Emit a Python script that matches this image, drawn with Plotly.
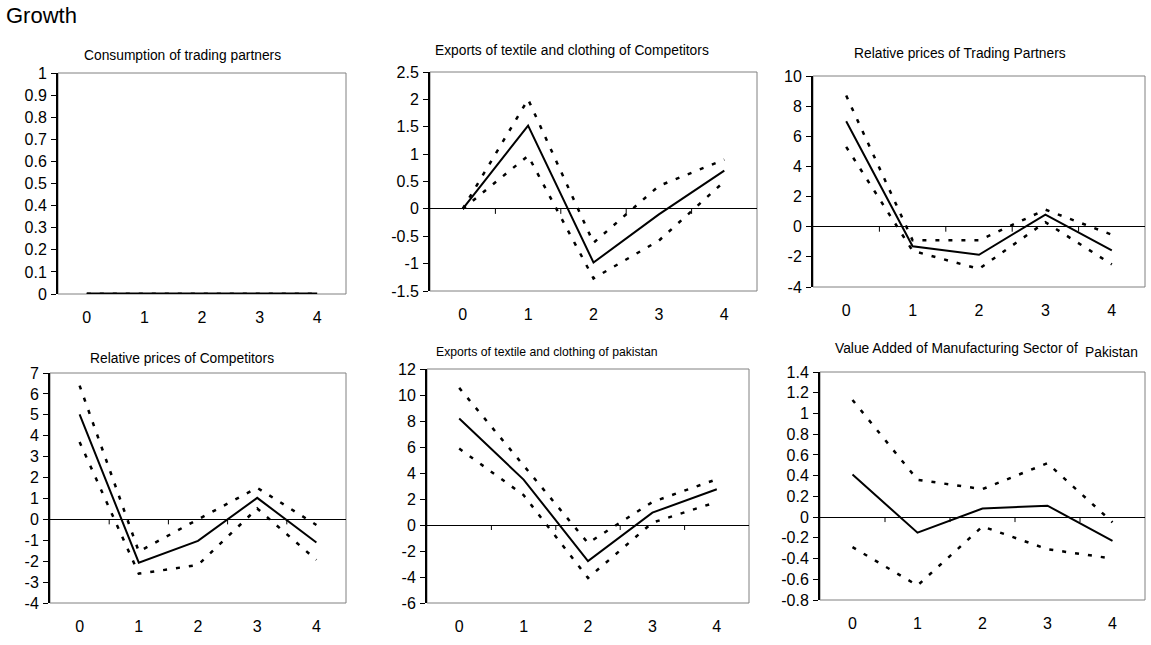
import numpy as np
import plotly.graph_objects as go

periods = ["0", "1", "2", "3", "4"]

titles = [
    "Consumption of trading partners",
    "Exports of textile and clothing of Competitors",
    "Relative prices of Trading Partners",
    "Relative prices of Competitors",
    "Exports of textile and clothing of pakistan",
    "Value Added of Manufacturing Sector of",
]
title_tail_p6 = "Pakistan"

p1_mid = [0, 0, 0, 0, 0]
p1_up = [0, 0, 0, 0, 0]
p1_lo = [0, 0, 0, 0, 0]

p2_mid = [0, 1.52, -0.98, -0.1, 0.7]
p2_up = [0, 2.0, -0.62, 0.42, 0.9]
p2_lo = [0, 0.97, -1.27, -0.58, 0.5]

p3_mid = [7.0, -1.3, -1.86, 0.8, -1.57]
p3_up = [8.7, -0.9, -0.9, 1.13, -0.53]
p3_lo = [5.3, -1.6, -2.8, 0.3, -2.5]

p4_mid = [5.02, -2.07, -1.03, 1.03, -1.11]
p4_up = [6.4, -1.54, 0.0, 1.51, -0.27]
p4_lo = [3.7, -2.6, -2.18, 0.52, -1.94]

p5_mid = [8.19, 3.49, -2.77, 0.95, 2.75]
p5_up = [10.55, 4.6, -1.39, 1.77, 3.52]
p5_lo = [5.88, 2.3, -4.08, 0.18, 1.77]

p6_mid = [0.41, -0.15, 0.083, 0.11, -0.23]
p6_up = [1.13, 0.36, 0.27, 0.52, -0.05]
p6_lo = [-0.29, -0.66, -0.09, -0.31, -0.40]

y_ranges = [(0, 1, 0.1), (-1.5, 2.5, 0.5), (-4, 10, 2), (-4, 7, 1), (-6, 12, 2), (-0.8, 1.4, 0.2)]

series = [
    (p1_mid, p1_up, p1_lo),
    (p2_mid, p2_up, p2_lo),
    (p3_mid, p3_up, p3_lo),
    (p4_mid, p4_up, p4_lo),
    (p5_mid, p5_up, p5_lo),
    (p6_mid, p6_up, p6_lo),
]

W, H = 1151, 645
# plot areas in pixels (left, right, top, bottom)
boxes = [
    (58, 346, 73, 294),
    (430, 757, 72, 291),
    (813, 1145, 76, 287),
    (50, 346, 373, 603),
    (427, 749, 369, 603),
    (820, 1145, 372, 600),
]
title_pos = [(182, 55, 13.8), (572, 50, 13.8), (960, 53, 13.8), (182, 358, 13.8), (547, 352, 12.2), (955, 348, 13.8)]

FONT = "Arial, Liberation Sans, sans-serif"
fig = go.Figure()
xs = list(range(len(periods)))
layout = dict(width=W, height=H, margin=dict(l=0, r=0, t=0, b=0), template="none",
              paper_bgcolor="white", plot_bgcolor="white", showlegend=False,
              font=dict(family=FONT, color="black"))
shapes = []
annotations = []

for i, ((mid, up, lo), (ymin, ymax, dt), (l, r, t, b)) in enumerate(zip(series, y_ranges, boxes)):
    n = i + 1
    xa = "x" if n == 1 else f"x{n}"
    ya = "y" if n == 1 else f"y{n}"
    for vals, dash, w in ((up, "4px,9px", 2.5), (lo, "4px,9px", 2.5), (mid, "solid", 3 if n == 1 else 2)):
        fig.add_trace(go.Scatter(x=xs, y=vals, mode="lines", xaxis=xa, yaxis=ya,
                                 line=dict(color="black", width=w, dash=dash),
                                 hoverinfo="skip"))
    tv = np.round(np.arange(ymin, ymax + dt / 2, dt), 2) + 0.0
    tt = [f"{(0.0 if abs(v) < 1e-9 else v):g}" for v in tv]
    layout["xaxis" if n == 1 else f"xaxis{n}"] = dict(
        domain=[l / W, r / W], anchor=ya, range=[-0.5, len(periods) - 0.5], automargin=False,
        tickvals=xs, ticktext=periods, ticks="", showline=False, showgrid=False,
        zeroline=False, ticklabelstandoff=12, tickfont=dict(size=16, family=FONT, color="black"))
    layout["yaxis" if n == 1 else f"yaxis{n}"] = dict(
        domain=[1 - b / H, 1 - t / H], anchor=xa, range=[ymin, ymax], automargin=False,
        tickvals=tv, ticktext=tt, ticks="outside", ticklen=5, tickcolor="black", tickwidth=1,
        showline=True, linecolor="black", linewidth=2, showgrid=False,
        zeroline=(n != 1), zerolinecolor="black", zerolinewidth=1,
        ticklabelstandoff=1, tickfont=dict(size=16, family=FONT, color="black"))
    shapes.append(dict(type="rect", xref=f"{xa} domain", yref=f"{ya} domain",
                       x0=0, x1=1, y0=0, y1=1, line=dict(color="#808080", width=1),
                       layer="below"))
    for k in range(len(periods) - 1):
        shapes.append(dict(type="line", xref=xa, yref=ya, x0=k + 0.5, x1=k + 0.5,
                           ysizemode="pixel", yanchor=0, y0=0, y1=-5,
                           line=dict(color="black", width=1)))
    tx, ty, fs = title_pos[i]
    if n == 6:
        annotations.append(dict(text=titles[i], x=833 / W, y=1 - ty / H, xref="paper", yref="paper",
                                xanchor="left", yanchor="middle", showarrow=False,
                                font=dict(size=fs, family=FONT, color="black")))
        annotations.append(dict(text=title_tail_p6, x=1083 / W, y=1 - (ty + 4) / H, xref="paper",
                                yref="paper", xanchor="left", yanchor="middle", showarrow=False,
                                font=dict(size=fs, family=FONT, color="black")))
    else:
        annotations.append(dict(text=titles[i], x=tx / W, y=1 - ty / H, xref="paper", yref="paper",
                                xanchor="center", yanchor="middle", showarrow=False,
                                font=dict(size=fs, family=FONT, color="black")))

annotations.append(dict(text="Growth", x=4 / W, y=1 - 15 / H, xref="paper", yref="paper",
                        xanchor="left", yanchor="middle", showarrow=False,
                        font=dict(size=22, family=FONT, color="black")))
layout["shapes"] = shapes
layout["annotations"] = annotations
fig.update_layout(**layout)
fig.write_html("out.html")
